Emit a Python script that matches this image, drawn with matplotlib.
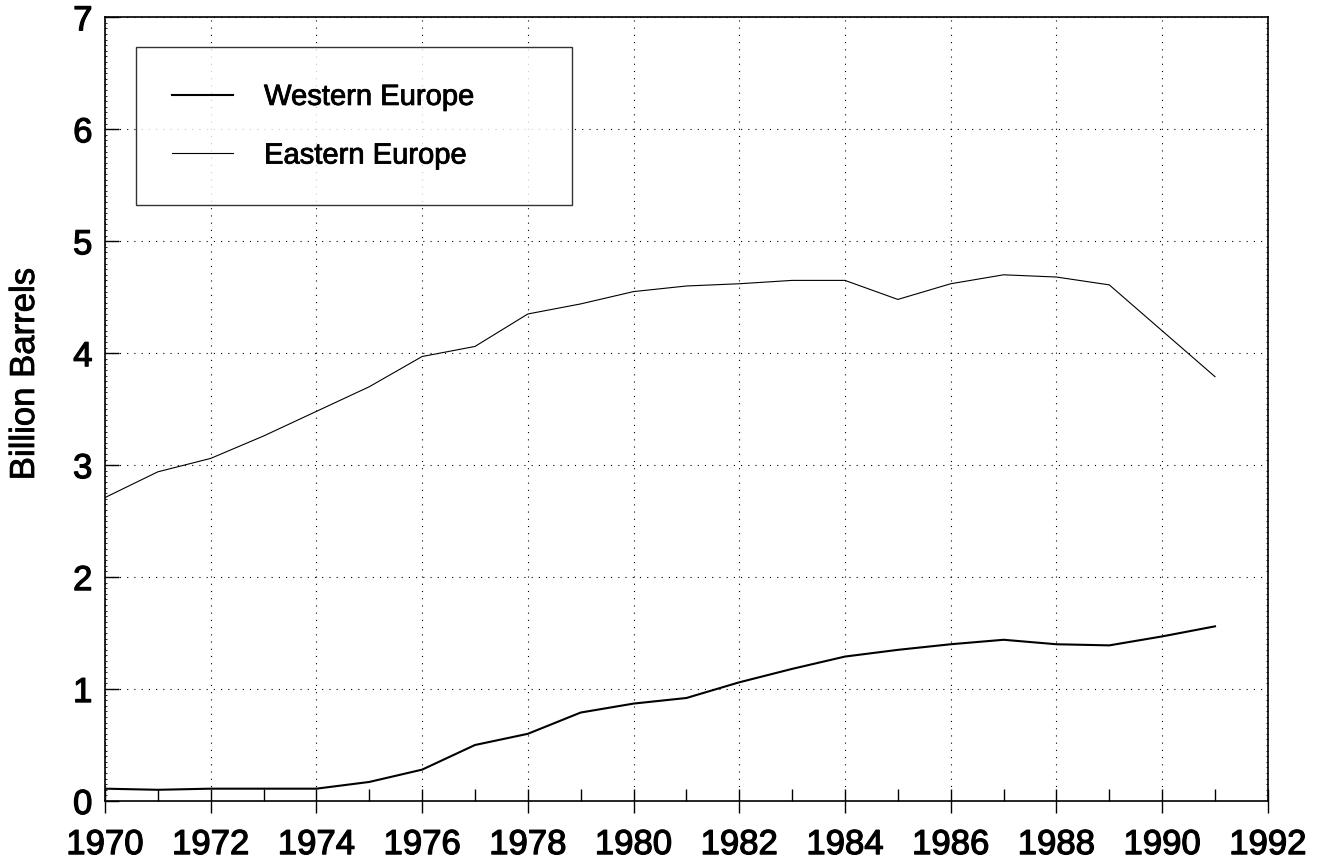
import matplotlib.pyplot as plt
import matplotlib.patheffects as pe
from matplotlib.ticker import MultipleLocator

plt.rcParams['font.family'] = ['Liberation Sans', 'DejaVu Sans']

years = list(range(1970, 1992))
western = [0.11, 0.10, 0.11, 0.11, 0.11, 0.17, 0.28, 0.50, 0.60, 0.79, 0.87,
           0.92, 1.06, 1.18, 1.29, 1.35, 1.40, 1.44, 1.40, 1.39, 1.47, 1.56]
eastern = [2.71, 2.94, 3.06, 3.26, 3.48, 3.70, 3.97, 4.06, 4.35, 4.44, 4.55,
           4.60, 4.62, 4.65, 4.65, 4.48, 4.62, 4.70, 4.68, 4.61, 4.20, 3.79]

# slightly heavier text, like the old raster print
heavy = [pe.withStroke(linewidth=0.9, foreground='black')]
heavy_small = [pe.withStroke(linewidth=0.6, foreground='black')]

fig = plt.figure(figsize=(13.2, 8.65), dpi=100)
ax = fig.add_axes([0.0795, 0.074, 0.881, 0.906])

ax.plot(years, western, color='black', lw=1.5, label='Western Europe')
ax.plot(years, eastern, color='black', lw=0.8, label='Eastern Europe')

ax.set_xlim(1970, 1992)
ax.set_ylim(0, 7)
ax.xaxis.set_major_locator(MultipleLocator(2))
ax.xaxis.set_minor_locator(MultipleLocator(1))
ax.yaxis.set_major_locator(MultipleLocator(1))
ax.yaxis.set_minor_locator(MultipleLocator(0.05))

ax.grid(True, which='major', linestyle=(0, (1, 5.5)), color='black', lw=0.8)
ax.tick_params(axis='x', which='major', direction='inout', length=17, width=1,
               labelsize=25, pad=11)
ax.tick_params(axis='x', which='minor', direction='in', length=9, width=1)
ax.tick_params(axis='y', which='major', direction='in', length=10, width=1,
               labelsize=25, pad=9)
ax.tick_params(axis='y', which='minor', direction='in', length=1.5, width=0.6,
               right=True)
for s in ax.spines.values():
    s.set_linewidth(1.2)
for lab in ax.get_xticklabels() + ax.get_yticklabels():
    lab.set_path_effects(heavy)

ax.set_ylabel('Billion Barrels', fontsize=25, path_effects=heavy_small)
ax.yaxis.set_label_coords(-0.055, 0.545)

leg = ax.legend(loc='upper left', bbox_to_anchor=(0.0267, 0.7679, 0.3748, 0.1938),
                mode='expand', fontsize=21, frameon=True, fancybox=False,
                edgecolor='black', handlelength=2.1, handletextpad=1.07,
                labelspacing=1.05, borderpad=1.22, borderaxespad=0)
leg.get_frame().set_linewidth(1)
for t in leg.get_texts():
    t.set_path_effects(heavy_small)

plt.savefig('out.png', dpi=100)
